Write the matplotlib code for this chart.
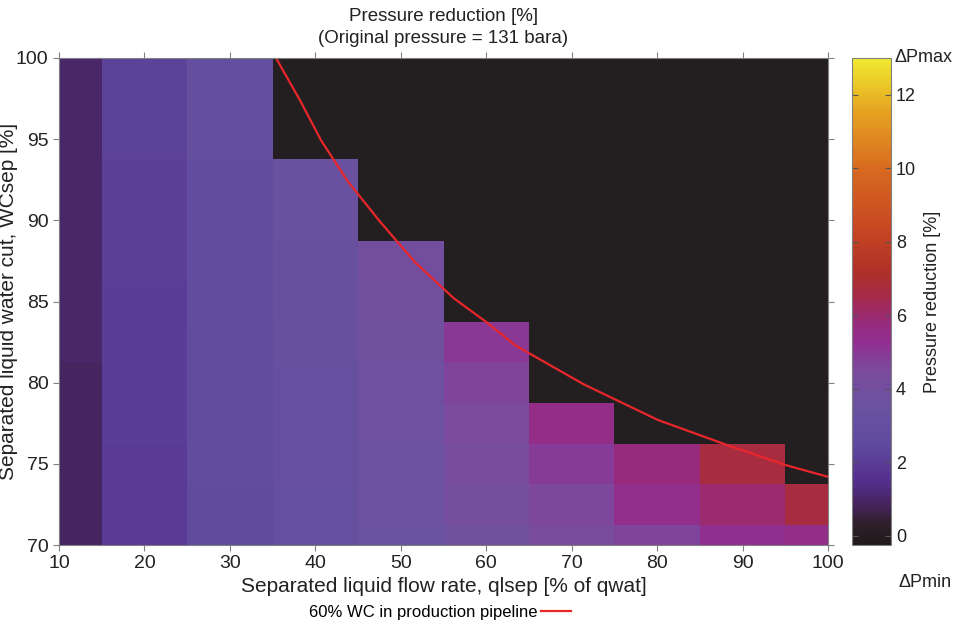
import matplotlib.pyplot as plt
import numpy as np
from matplotlib.colors import LinearSegmentedColormap

plt.rcParams['font.family'] = ['Liberation Sans', 'DejaVu Sans']

# separated liquid flow rate [% of qwat] and water cut [%] (cell centres)
qlsep = [10, 20, 30, 40, 50, 60, 70, 80, 90, 100]
wcsep = [70, 72.5, 75, 77.5, 80, 82.5, 85, 87.5, 90, 92.5, 95, 97.5, 100]

nan = np.nan
# pressure reduction [%], rows = wcsep, cols = qlsep
dp = np.array([
    [0.9, 1.9, 2.7, 3.1, 3.5, 3.8, 4.4, 4.7, 5.3, 5.5],
    [0.9, 1.9, 2.7, 3.1, 3.6, 4.1, 4.6, 5.4, 6.0, 6.7],
    [0.9, 1.9, 2.8, 3.2, 3.6, 4.3, 4.9, 5.8, 6.7, nan],
    [0.9, 2.0, 2.8, 3.2, 3.7, 4.5, 5.5, nan, nan, nan],
    [0.9, 2.0, 2.8, 3.2, 3.7, 4.7, nan, nan, nan, nan],
    [1.0, 2.0, 2.8, 3.3, 3.8, 5.0, nan, nan, nan, nan],
    [1.0, 2.0, 2.9, 3.3, 3.9, nan, nan, nan, nan, nan],
    [1.0, 2.1, 2.9, 3.3, 4.0, nan, nan, nan, nan, nan],
    [1.0, 2.1, 2.9, 3.4, nan, nan, nan, nan, nan, nan],
    [1.0, 2.1, 2.9, 3.4, nan, nan, nan, nan, nan, nan],
    [1.0, 2.2, 3.0, nan, nan, nan, nan, nan, nan, nan],
    [1.0, 2.2, 3.0, nan, nan, nan, nan, nan, nan, nan],
    [1.0, 2.2, 3.0, nan, nan, nan, nan, nan, nan, nan],
])

# 60% WC in production pipeline
line_q = [35.4, 38.2, 40.7, 43.8, 47.6, 51.7, 56.2, 60.1, 63.4, 71.4, 80.1, 88.5, 95.2, 100]
line_wc = [100, 97.4, 94.9, 92.4, 89.9, 87.4, 85.2, 83.7, 82.3, 79.9, 77.7, 76.1, 74.9, 74.2]

vmin, vmax = -0.25, 13.0
anchors = [(-0.25, '#1f1a1b'), (0.3, '#2e1f2a'), (0.8, '#45235a'), (1.5, '#55308f'),
           (2.5, '#5f4a9d'), (3.5, '#6a52a0'), (4.5, '#7b4a9e'), (5.2, '#8f3093'),
           (5.8, '#982a7c'), (6.5, '#a42a4a'), (7.2, '#b03028'), (8.5, '#c84a22'),
           (10, '#d86a20'), (11.5, '#e5a020'), (13.0, '#f0ea30')]
cmap = LinearSegmentedColormap.from_list(
    'dp', [((v - vmin) / (vmax - vmin), c) for v, c in anchors])
cmap.set_bad('#231f20')

x = np.array(qlsep, dtype=float)
y = np.array(wcsep, dtype=float)
xe = np.concatenate([[x[0]], (x[:-1] + x[1:]) / 2, [x[-1]]])
ye = np.concatenate([[y[0]], (y[:-1] + y[1:]) / 2, [y[-1]]])

fig = plt.figure(figsize=(9.59, 6.24), dpi=100)
ax = fig.add_axes([59 / 959, 79 / 624, 769 / 959, 487 / 624])
cax = fig.add_axes([852 / 959, 79 / 624, 39 / 959, 487 / 624])

mesh = ax.pcolormesh(xe, ye, np.ma.masked_invalid(dp), cmap=cmap, vmin=vmin, vmax=vmax)
ax.plot(line_q, line_wc, color='#e8262b', linewidth=1.6,
        label='60% WC in production pipeline')

ax.set_xlim(10, 100)
ax.set_ylim(70, 100)
ax.set_xticks(np.arange(10, 101, 10))
ax.set_yticks(np.arange(70, 101, 5))
ax.tick_params(labelsize=14, direction='out', length=4, color='#808080',
               top=True, right=True, labelcolor='#222222')
for s in ax.spines.values():
    s.set_color('#808080')
ax.set_xlabel('Separated liquid flow rate, qlsep [% of qwat]', fontsize=15,
              color='#222222', labelpad=3)
ax.set_ylabel('Separated liquid water cut, WCsep [%]', fontsize=15, color='#222222')
ax.yaxis.set_label_coords(-0.053, 0.5)
ax.set_title('Pressure reduction [%]\n(Original pressure = 131 bara)', fontsize=13.5,
             color='#222222', pad=11, linespacing=1.38)

cb = fig.colorbar(mesh, cax=cax, ticks=np.arange(0, 13, 2))
cb.outline.set_edgecolor('#808080')
cax.tick_params(labelsize=13, direction='in', length=4, color='#555555',
                left=True, labelcolor='#222222')
cb.set_label('Pressure reduction [%]', fontsize=13, color='#222222', labelpad=6)
cax.text(1.1, 1.0, 'ΔPmax', transform=cax.transAxes, fontsize=13,
         ha='left', va='center', color='#222222')
cax.text(1.2, -0.078, 'ΔPmin', transform=cax.transAxes, fontsize=13,
         ha='left', va='center', color='#222222')

fig.legend(loc='center', bbox_to_anchor=(440 / 959, 1 - 612 / 624), frameon=False,
           markerfirst=False, fontsize=12, handlelength=1.8, handletextpad=0.2,
           borderpad=0)

plt.savefig('out.png', dpi=100)
